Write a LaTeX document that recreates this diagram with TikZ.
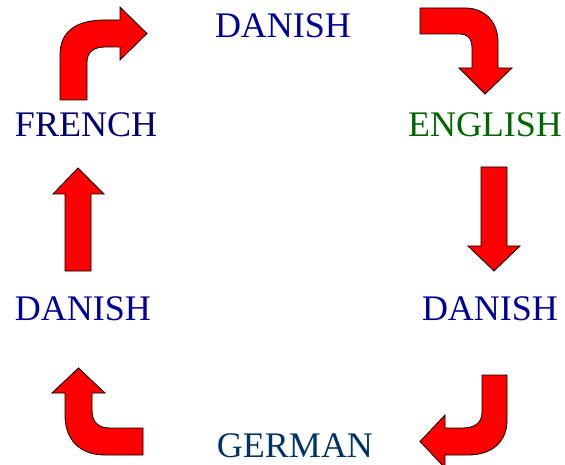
\documentclass[tikz,border=0pt]{standalone}
\usepackage{fontspec}
\setmainfont{Liberation Serif}
\usepackage{tikz}
\usetikzlibrary{calc,positioning}
\definecolor{danishblue}{RGB}{0,0,153}
\definecolor{frenchblue}{RGB}{0,0,110}
\definecolor{englishgreen}{RGB}{0,102,0}
\definecolor{germanblue}{RGB}{0,51,102}
\tikzset{
    lang/.style={font=\fontsize{36}{40}\selectfont, anchor=base, inner sep=0pt},
    blockarrow/.style={fill=red, draw=black, line width=0.8pt, line join=miter}
}

\begin{document}
\begin{tikzpicture}[x=1pt,y=-1pt]
                \useasboundingbox (0,0) rectangle (565,465);

                \node[lang,text=danishblue] at (283,38) (danishtop) {DANISH};
                \node[lang,text=frenchblue] at (86,137) (french) {FRENCH};
                \node[lang,text=englishgreen] at (485,137) (english) {ENGLISH};
                \node[lang,text=danishblue] at (490,320) (danishright) {DANISH};
                \node[lang,text=danishblue] at (83,320) (danishleft) {DANISH};
                \node[lang,text=germanblue] at (295,457) (german) {GERMAN};

                % french -> danish (up, then right)
                \draw[blockarrow] (60,100) -- (60,55) .. controls (60,30) and (78,20) .. (105,20) -- (120,20) -- (120,7)
                    -- (147,33.5) -- (120,60) -- (120,47) -- (105,47) .. controls (94,47) and (87,52) .. (87,62) -- (87,100) -- cycle;

                % danish -> english (right, then down)
                \draw[blockarrow] (420,8) -- (465,8) .. controls (485,8) and (498,22) .. (498,42) -- (498,68) -- (512,68)
                    -- (485,94) -- (459,68) -- (472,68) -- (472,48) .. controls (472,38) and (467,34) .. (460,34) -- (420,34) -- cycle;

                % english -> danish
                \draw[blockarrow] (481,167) -- (507,167) -- (507,246) -- (520,246) -- (494,271) -- (468,246) -- (481,246) -- cycle;

                % danish -> german (down, then left)
                \draw[blockarrow] (507,375) -- (507,420) .. controls (507,442) and (492,455) .. (468,455) -- (445,455) -- (445,468)
                    -- (420,441.5) -- (445,415) -- (445,428) -- (462,428) .. controls (476,428) and (482,422) .. (482,412) -- (482,375) -- cycle;

                % german -> danish (left, then up)
                \draw[blockarrow] (143,428) -- (110,428) .. controls (98,428) and (92,422) .. (92,410) -- (92,393) -- (105,393)
                    -- (78.5,368) -- (52,393) -- (65,393) -- (65,415) .. controls (65,440) and (80,455) .. (105,455) -- (143,455) -- cycle;

                % danish -> french
                \draw[blockarrow] (65,271) -- (65,194) -- (53,194) -- (78,168) -- (104,194) -- (91,194) -- (91,271) -- cycle;
\end{tikzpicture}
\end{document}
